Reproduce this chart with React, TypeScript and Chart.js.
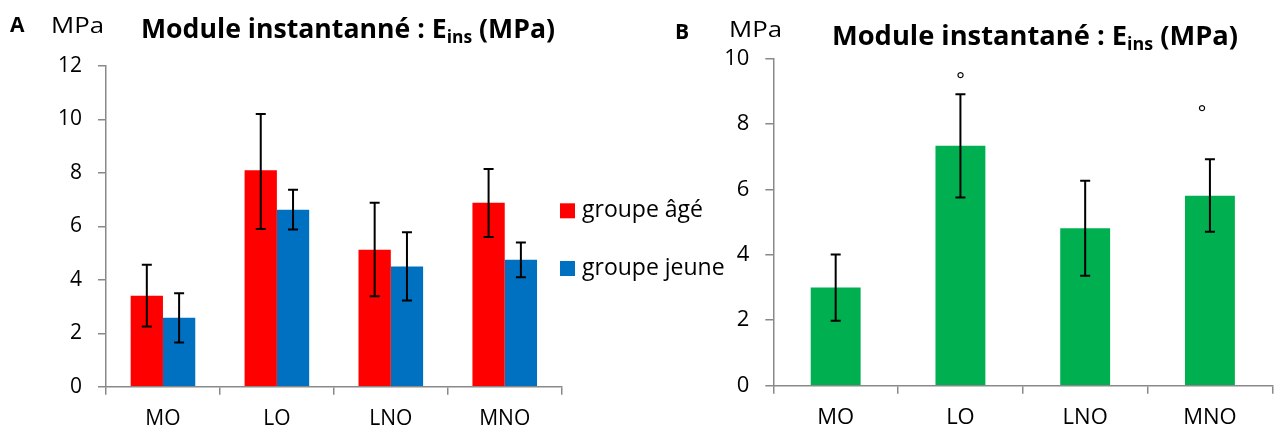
import React, { useEffect, useRef } from "react";
import { Chart, registerables } from "chart.js";

Chart.register(...registerables);

// ---------- Data ----------
const categories = ["MO", "LO", "LNO", "MNO"];
const seriesNames = ["groupe âgé", "groupe jeune"];

// Panel A
const agedValues = [3.4, 8.1, 5.12, 6.88];
const agedErrLow = [2.25, 5.9, 3.38, 5.6];
const agedErrHigh = [4.56, 10.2, 6.88, 8.15];
const youngValues = [2.58, 6.62, 4.5, 4.75];
const youngErrLow = [1.65, 5.88, 3.23, 4.1];
const youngErrHigh = [3.5, 7.37, 5.78, 5.4];
const aYMax = 12;
const aYStep = 2;

// Panel B
const allValues = [3.0, 7.33, 4.81, 5.8];
const allErrLow = [1.98, 5.75, 3.36, 4.7];
const allErrHigh = [4.01, 8.9, 6.26, 6.92];
const markValues: (number | null)[] = [null, 9.45, null, 8.45];
const markText = "°";
const bYMax = 10;
const bYStep = 2;

const titleA = { main: "Module instantanné : E", sub: "ins", tail: " (MPa)" };
const titleB = { main: "Module instantané : E", sub: "ins", tail: " (MPa)" };
const unitLabel = "MPa";

const FONT = "'Open Sans', 'DejaVu Sans', sans-serif";
const AXIS_GRAY = "#898989";

// ---------- Plugins ----------
const errorBarPlugin = {
  id: "errorBars",
  afterDatasetsDraw(chart: any, _args: any, opts: any) {
    const ctx = chart.ctx;
    const ys = chart.scales.y;
    chart.data.datasets.forEach((ds: any, di: number) => {
      if (!ds.errLow) return;
      const meta = chart.getDatasetMeta(di);
      meta.data.forEach((el: any, i: number) => {
        const x = el.x;
        const y1 = ys.getPixelForValue(ds.errLow[i]);
        const y2 = ys.getPixelForValue(ds.errHigh[i]);
        const cap = opts.cap || 5;
        ctx.save();
        ctx.strokeStyle = "#000";
        ctx.lineWidth = opts.lineWidth || 2;
        ctx.beginPath();
        ctx.moveTo(x, y1);
        ctx.lineTo(x, y2);
        ctx.moveTo(x - cap, y1);
        ctx.lineTo(x + cap, y1);
        ctx.moveTo(x - cap, y2);
        ctx.lineTo(x + cap, y2);
        ctx.stroke();
        ctx.restore();
      });
    });
  },
};

const markPlugin = {
  id: "marks",
  afterDatasetsDraw(chart: any, _args: any, opts: any) {
    if (!opts || !opts.values) return;
    const ctx = chart.ctx;
    const ys = chart.scales.y;
    const meta = chart.getDatasetMeta(0);
    ctx.save();
    ctx.fillStyle = "#000";
    ctx.font = `${opts.size}px ${FONT}`;
    ctx.textAlign = "center";
    ctx.textBaseline = "alphabetic";
    opts.values.forEach((v: number | null, i: number) => {
      if (v == null) return;
      const x = meta.data[i].x - (opts.shift ? opts.shift[i] : 0);
      const y = ys.getPixelForValue(v) + opts.size * 0.55;
      ctx.fillText(opts.text, x, y);
    });
    ctx.restore();
  },
};

function drawFitted(ctx: any, parts: { text: string; font: string; dy: number }[], x: number, baseline: number, targetWidth: number | null) {
  let total = 0;
  const widths = parts.map((p) => {
    ctx.font = p.font;
    const w = ctx.measureText(p.text).width;
    total += w;
    return w;
  });
  const sx = targetWidth ? targetWidth / total : 1;
  ctx.save();
  ctx.translate(x, baseline);
  ctx.scale(sx, 1);
  ctx.fillStyle = "#000";
  ctx.textAlign = "left";
  ctx.textBaseline = "alphabetic";
  let cx = 0;
  parts.forEach((p, i) => {
    ctx.font = p.font;
    ctx.fillText(p.text, cx, p.dy);
    cx += widths[i];
  });
  ctx.restore();
}

const decorPlugin = {
  id: "decor",
  afterDraw(chart: any, _args: any, o: any) {
    const ctx = chart.ctx;
    drawFitted(ctx, [{ text: o.letter, font: `bold ${o.letterSize}px ${FONT}`, dy: 0 }], o.letterX, o.letterY, null);
    drawFitted(ctx, [{ text: unitLabel, font: `${o.unitSize}px ${FONT}`, dy: 0 }], o.unitX, o.unitY, o.unitW);
    const t = o.title;
    drawFitted(
      ctx,
      [
        { text: t.main, font: `bold ${o.titleSize}px ${FONT}`, dy: 0 },
        { text: t.sub, font: `bold ${Math.round(o.titleSize * 0.65)}px ${FONT}`, dy: 5 },
        { text: t.tail, font: `bold ${o.titleSize}px ${FONT}`, dy: 0 },
      ],
      o.titleX,
      o.titleY,
      o.titleW
    );
    if (o.legend) {
      const L = o.legend;
      chart.data.datasets.forEach((ds: any, i: number) => {
        const top = L.tops[i];
        ctx.save();
        ctx.fillStyle = ds.backgroundColor;
        ctx.fillRect(L.boxX, top, L.box, L.box);
        ctx.fillStyle = "#000";
        ctx.font = `${L.size}px ${FONT}`;
        ctx.textAlign = "left";
        ctx.textBaseline = "middle";
        ctx.fillText(ds.label, L.textX, top + L.box / 2);
        ctx.restore();
      });
    }
  },
};

function axisOptions(yMax: number, yStep: number, yWidth: number, xHeight: number, yFont: number, xFont: number, xPad: number, yPad: number) {
  return {
    x: {
      offset: true,
      grid: {
        offset: true,
        drawOnChartArea: false,
        drawTicks: true,
        tickLength: 8,
        color: AXIS_GRAY,
        lineWidth: 1.5,
      },
      border: { color: AXIS_GRAY, width: 1.5 },
      ticks: { color: "#000", font: { family: FONT, size: xFont }, padding: xPad, maxRotation: 0 },
      afterFit(scale: any) {
        scale.height = xHeight;
      },
    },
    y: {
      min: 0,
      max: yMax,
      grid: {
        drawOnChartArea: false,
        drawTicks: true,
        tickLength: 8,
        color: AXIS_GRAY,
        lineWidth: 1.5,
      },
      border: { color: AXIS_GRAY, width: 1.5 },
      ticks: { stepSize: yStep, color: "#000", font: { family: FONT, size: yFont }, padding: yPad },
      afterFit(scale: any) {
        scale.width = yWidth;
      },
    },
  };
}

function PanelA() {
  const ref = useRef<HTMLCanvasElement | null>(null);
  useEffect(() => {
    if (!ref.current) return;
    const chart = new Chart(ref.current, {
      type: "bar",
      data: {
        labels: categories,
        datasets: [
          {
            label: seriesNames[0],
            data: agedValues,
            backgroundColor: "#FF0000",
            borderWidth: 0,
            errLow: agedErrLow,
            errHigh: agedErrHigh,
            categoryPercentage: 0.567,
            barPercentage: 1,
          } as any,
          {
            label: seriesNames[1],
            data: youngValues,
            backgroundColor: "#0070C0",
            borderWidth: 0,
            errLow: youngErrLow,
            errHigh: youngErrHigh,
            categoryPercentage: 0.567,
            barPercentage: 1,
          } as any,
        ],
      },
      options: {
        responsive: false,
        animation: false,
        layout: { padding: { left: 0, right: 740 - 561.7, top: 66, bottom: 0 } },
        plugins: {
          legend: { display: false },
          tooltip: { enabled: false },
          errorBars: { cap: 5, lineWidth: 2 },
          decor: {
            letter: "A",
            letterSize: 21,
            letterX: 10,
            letterY: 32,
            unitSize: 22,
            unitX: 51,
            unitY: 33,
            unitW: 53,
            title: titleA,
            titleSize: 26,
            titleX: 141,
            titleY: 38,
            titleW: 414,
            legend: { boxX: 560, box: 15, tops: [203.3, 261], textX: 582, size: 23 },
          },
        } as any,
        scales: axisOptions(aYMax, aYStep, 106, 432 - 386.7, 21, 21, 12, 16) as any,
      },
      plugins: [errorBarPlugin, decorPlugin],
    });
    return () => chart.destroy();
  }, []);
  return (
    <canvas
      ref={ref}
      width={740}
      height={432}
      style={{ position: "absolute", left: 0, top: 0, width: 740, height: 432 }}
    />
  );
}

function PanelB() {
  const ref = useRef<HTMLCanvasElement | null>(null);
  useEffect(() => {
    if (!ref.current) return;
    const chart = new Chart(ref.current, {
      type: "bar",
      data: {
        labels: categories,
        datasets: [
          {
            label: "E_ins",
            data: allValues,
            backgroundColor: "#00B050",
            borderWidth: 0,
            errLow: allErrLow,
            errHigh: allErrHigh,
            categoryPercentage: 0.4,
            barPercentage: 1,
          } as any,
        ],
      },
      options: {
        responsive: false,
        animation: false,
        layout: { padding: { left: 0, right: 634 - 632.3, top: 58.3, bottom: 0 } },
        plugins: {
          legend: { display: false },
          tooltip: { enabled: false },
          errorBars: { cap: 5, lineWidth: 2 },
          marks: { values: markValues, text: markText, size: 20, shift: [0, 0, 0, 8] },
          decor: {
            letter: "B",
            letterSize: 21,
            letterX: 675 - 640,
            letterY: 39,
            unitSize: 22,
            unitX: 729 - 640,
            unitY: 37,
            unitW: 53,
            title: titleB,
            titleSize: 26,
            titleX: 832 - 640,
            titleY: 45,
            titleW: 406,
          },
        } as any,
        scales: axisOptions(bYMax, bYStep, 133.3, 432 - 385.7, 22, 22, 11, 16) as any,
      },
      plugins: [errorBarPlugin, markPlugin, decorPlugin],
    });
    return () => chart.destroy();
  }, []);
  return (
    <canvas
      ref={ref}
      width={634}
      height={432}
      style={{ position: "absolute", left: 640, top: 0, width: 634, height: 432 }}
    />
  );
}

export default function App() {
  return (
    <div style={{ position: "fixed", left: 0, top: 0, width: 1274, height: 432, background: "#fff" }}>
      <PanelA />
      <PanelB />
    </div>
  );
}
